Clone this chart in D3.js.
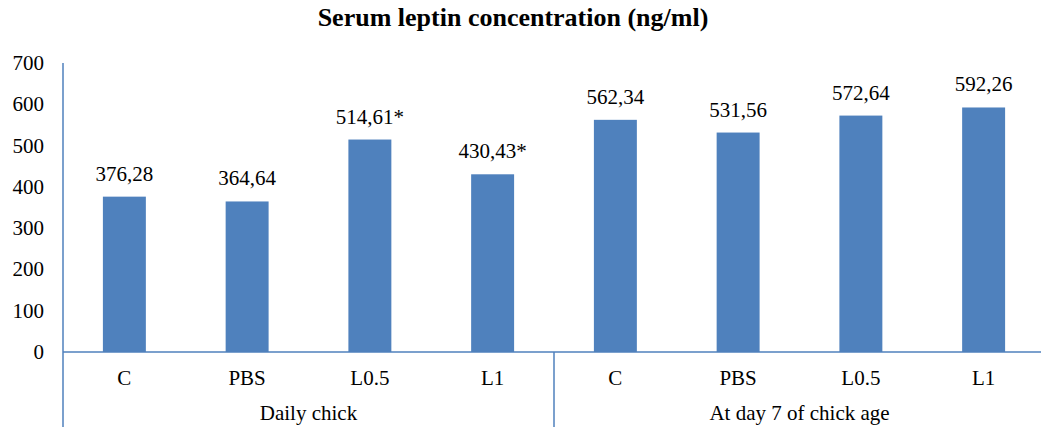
<!DOCTYPE html>
<html>
<head>
<meta charset="utf-8">
<script src="https://cdn.jsdelivr.net/npm/d3@7"></script>
<style>
  body { margin: 0; background: #fff; }
  text { fill: #000; }
</style>
</head>
<body>
<svg id="chart" width="1041" height="427"></svg>
<script>
// Data
const groups = ['Daily chick', 'At day 7 of chick age'];
const categories = ['C', 'PBS', 'L0.5', 'L1'];
const values = [376.28, 364.64, 514.61, 430.43, 562.34, 531.56, 572.64, 592.26];
const valueLabels = ['376,28', '364,64', '514,61*', '430,43*', '562,34', '531,56', '572,64', '592,26'];
const yTicks = [0, 100, 200, 300, 400, 500, 600, 700];

const BLUE = '#4F81BD';
const FONT = '"Liberation Serif", "DejaVu Serif", serif';
const svg = d3.select('#chart').attr('font-family', FONT);

const plotLeft = 63, plotRight = 1045, plotTop = 63, zeroY = 352, plotBottom = 427;

const x = d3.scaleBand()
  .domain(d3.range(values.length))
  .range([plotLeft, plotRight])
  .paddingInner(0.65)
  .paddingOuter(0.325);

const y = d3.scaleLinear().domain([0, 700]).range([zeroY, plotTop]);

// Title
svg.append('text')
  .attr('x', 513).attr('y', 26)
  .attr('text-anchor', 'middle')
  .attr('font-size', 26).attr('font-weight', 'bold')
  .text('Serum leptin concentration (ng/ml)');

// Y tick labels
svg.selectAll('.ytick')
  .data(yTicks)
  .join('text')
  .attr('class', 'ytick')
  .attr('x', 44)
  .attr('y', d => y(d) + 7)
  .attr('text-anchor', 'end')
  .attr('font-size', 21)
  .text(d => d);

// Bars
svg.selectAll('.bar')
  .data(values)
  .join('rect')
  .attr('class', 'bar')
  .attr('x', (d, i) => x(i))
  .attr('width', x.bandwidth())
  .attr('y', d => y(d))
  .attr('height', d => zeroY - y(d))
  .attr('fill', BLUE);

// Value labels
svg.selectAll('.vlabel')
  .data(values)
  .join('text')
  .attr('class', 'vlabel')
  .attr('x', (d, i) => x(i) + x.bandwidth() / 2)
  .attr('y', d => y(d) - 16)
  .attr('text-anchor', 'middle')
  .attr('font-size', 21)
  .text((d, i) => valueLabels[i]);

// Axes lines
svg.append('line')
  .attr('x1', plotLeft).attr('x2', plotLeft)
  .attr('y1', plotTop).attr('y2', plotBottom)
  .attr('stroke', BLUE).attr('stroke-width', 1.5);

svg.append('line')
  .attr('x1', plotLeft).attr('x2', plotRight)
  .attr('y1', zeroY).attr('y2', zeroY)
  .attr('stroke', BLUE).attr('stroke-width', 1.5);

// Group separator
const step = x.step();
svg.append('line')
  .attr('x1', plotLeft + step * categories.length).attr('x2', plotLeft + step * categories.length)
  .attr('y1', zeroY).attr('y2', plotBottom)
  .attr('stroke', BLUE).attr('stroke-width', 1.5);

// Category labels
svg.selectAll('.clabel')
  .data(values)
  .join('text')
  .attr('class', 'clabel')
  .attr('x', (d, i) => x(i) + x.bandwidth() / 2)
  .attr('y', 385)
  .attr('text-anchor', 'middle')
  .attr('font-size', 21)
  .text((d, i) => categories[i % categories.length]);

// Group labels
svg.selectAll('.glabel')
  .data(groups)
  .join('text')
  .attr('class', 'glabel')
  .attr('x', (d, i) => plotLeft + step * categories.length * (i + 0.5))
  .attr('y', 420)
  .attr('text-anchor', 'middle')
  .attr('font-size', 21)
  .text(d => d);
</script>
</body>
</html>
